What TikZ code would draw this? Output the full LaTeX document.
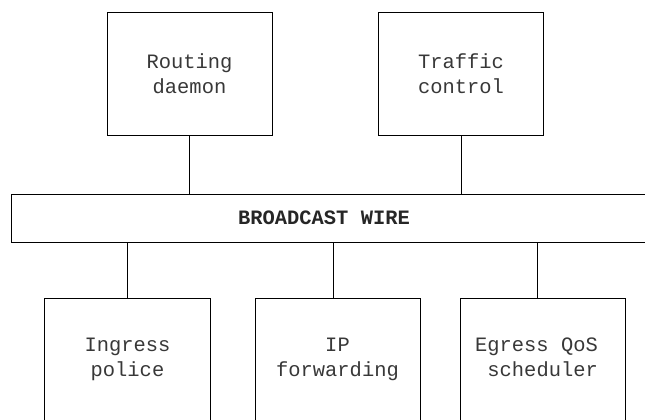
\documentclass[tikz,border=0pt]{standalone}
\usepackage{fontspec}
\setmonofont{Liberation Mono}
\begin{document}
\begin{tikzpicture}[x=1bp,y=-1bp,
  txt/.style={font=\ttfamily\fontsize{20.5}{25}\selectfont, text=black!78, inner sep=0pt},
  box/.style={draw=black, line width=1bp, rectangle, minimum width=165bp, minimum height=123bp, inner sep=0pt,
    txt, align=center},
  wirebox/.style={draw=black, line width=1bp, rectangle, minimum width=638bp, minimum height=48bp, inner sep=0pt,
    font=\ttfamily\bfseries\fontsize{20.5}{25}\selectfont, text=black!85},
  link/.style={draw=black, line width=1bp}]
\clip (0,0) rectangle (645,419);
\useasboundingbox (0,0) rectangle (645,419);
\node[box] (rd) at (189.5,73.5) {Routing\\daemon};
\node[box] (tc) at (461,73.5) {Traffic\\control};
\node[wirebox] (wire) at (331,218) {\hspace*{-14bp}BROADCAST WIRE};
\node[box] (ip) at (127.5,359.5) {Ingress\\police};
\node[box] (fw) at (337.5,359.5) {IP\\forwarding};
\node[box] (eq) at (542.5,359.5) {};
\node[txt, align=right] (eqtext) at ([xshift=-6bp,yshift=2bp]eq.center) {Egress QoS\\scheduler};
\draw[link] (rd.south) -- (rd.south |- wire.north);
\draw[link] (tc.south) -- (tc.south |- wire.north);
\draw[link] (ip.north) -- (ip.north |- wire.south);
\draw[link] ([xshift=-4bp]fw.north) -- ([xshift=-4bp]fw.north |- wire.south);
\draw[link] ([xshift=-5bp]eq.north) -- ([xshift=-5bp]eq.north |- wire.south);
\end{tikzpicture}
\end{document}
